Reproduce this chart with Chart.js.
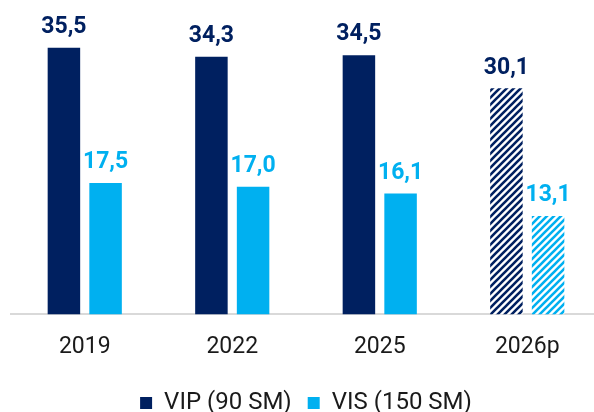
<!DOCTYPE html>
<html>
<head>
<meta charset="utf-8">
<script src="https://cdn.jsdelivr.net/npm/chart.js@4.4.1/dist/chart.umd.min.js"></script>
<style>
  html, body { margin: 0; padding: 0; background: #fff; overflow: hidden; }
  #wrap { width: 602px; height: 412px; }
</style>
</head>
<body>
<div id="wrap"><canvas id="myChart"></canvas></div>
<script>
// Chart data
const categories = ['2019', '2022', '2025', '2026p'];
const vipValues = [35.5, 34.3, 34.5, 30.1];
const visValues = [17.5, 17.0, 16.1, 13.1];
const projected = [false, false, false, true]; // hatched bars

const vipColor = '#002060';
const visColor = '#00B0F0';

// Diagonal stripe pattern for the forecast bars
function makeHatch(color) {
  const size = 7;
  const c = document.createElement('canvas');
  c.width = size;
  c.height = size;
  const g = c.getContext('2d');
  g.fillStyle = '#ffffff';
  g.fillRect(0, 0, size, size);
  g.strokeStyle = color;
  g.lineWidth = 2.6;
  g.beginPath();
  g.moveTo(0, size); g.lineTo(size, 0);
  g.moveTo(-size / 2, size / 2); g.lineTo(size / 2, -size / 2);
  g.moveTo(size / 2, size * 1.5); g.lineTo(size * 1.5, size / 2);
  g.stroke();
  return g.createPattern(c, 'repeat');
}

const ctx = document.getElementById('myChart').getContext('2d');
const vipHatch = makeHatch(vipColor);
const visHatch = makeHatch(visColor);

// Draws the value above each bar
const valueLabels = {
  id: 'valueLabels',
  afterDatasetsDraw(chart) {
    const c = chart.ctx;
    c.save();
    c.font = 'bold 23px Roboto';
    c.textAlign = 'center';
    c.textBaseline = 'bottom';
    chart.data.datasets.forEach((ds, i) => {
      const meta = chart.getDatasetMeta(i);
      c.fillStyle = ds.labelColor;
      meta.data.forEach((bar, j) => {
        const txt = ds.data[j].toFixed(1).replace('.', ',');
        c.fillText(txt, bar.x, bar.y - 9);
      });
    });
    c.restore();
  }
};

const myChart = new Chart(ctx, {
  type: 'bar',
  data: {
    labels: categories,
    datasets: [{
      label: 'VIP (90 SM)',
      data: vipValues,
      labelColor: vipColor,
      backgroundColor: projected.map(p => p ? vipHatch : vipColor)
    }, {
      label: 'VIS (150 SM)',
      data: visValues,
      labelColor: visColor,
      backgroundColor: projected.map(p => p ? visHatch : visColor)
    }]
  },
  options: {
    responsive: true,
    maintainAspectRatio: false,
    animation: false,
    categoryPercentage: 0.565,
    barPercentage: 0.78,
    layout: { padding: { left: 11, right: 1, top: 0, bottom: -13 } },
    scales: {
      x: {
        grid: { display: false, drawTicks: false },
        border: { color: '#d9d9d9', width: 2 },
        ticks: {
          color: '#1a1a1a',
          padding: 19,
          font: { family: 'Roboto', size: 23 }
        },
        afterFit(scale) {
          scale.height -= 5; // pull the axis a bit closer to the legend
        }
      },
      y: {
        display: false,
        min: 0,
        max: 41.85
      }
    },
    plugins: {
      tooltip: { enabled: false },
      legend: {
        position: 'bottom',
        labels: {
          color: '#1a1a1a',
          boxWidth: 12,
          boxHeight: 12,
          padding: 16,
          font: { family: 'Roboto', size: 24 },
          generateLabels(chart) {
            return chart.data.datasets.map((ds, i) => ({
              text: ds.label,
              fillStyle: ds.labelColor,
              strokeStyle: ds.labelColor,
              lineWidth: 0,
              datasetIndex: i,
              fontColor: '#1a1a1a'
            }));
          }
        }
      }
    }
  },
  plugins: [valueLabels]
});
</script>
</body>
</html>
